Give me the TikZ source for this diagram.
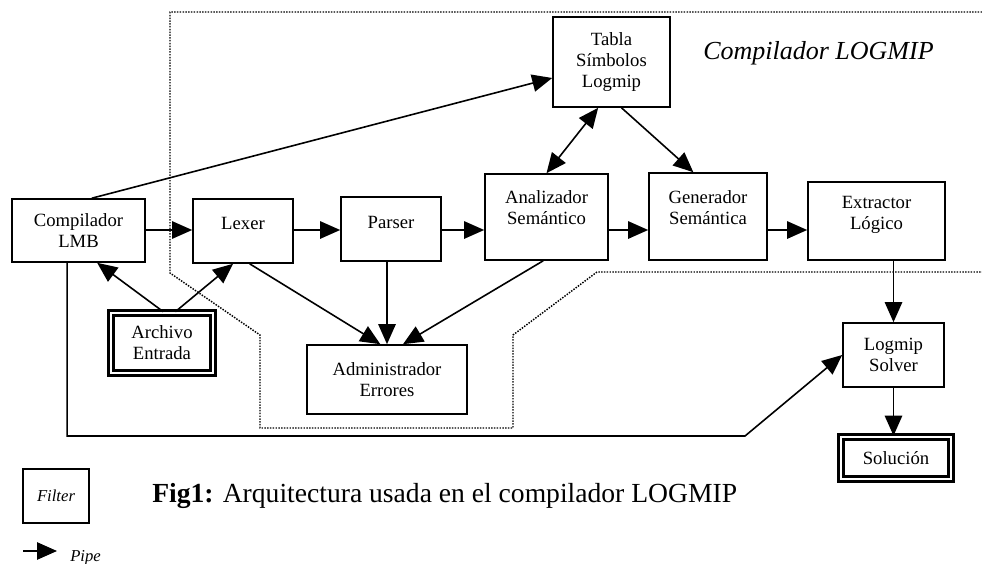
\documentclass[tikz,border=0pt]{standalone}
\usepackage{fontspec}
\setmainfont{Liberation Serif}
\usetikzlibrary{arrows.meta}
\newcommand\boxfont{\fontsize{14}{15.8}\selectfont}
\tikzset{
  filt/.style={draw, line width=1.2pt, align=center, font=\boxfont, inner sep=2pt},
  dfilt/.style={filt, double, double distance=2.2pt, line width=1.9pt},
  boxtxt/.style={font=\boxfont, align=center},
  pipe/.style={line width=1.2pt, ->},
  bound/.style={densely dotted, line width=1.1pt},
  >={Triangle[length=15pt,width=13pt]}
}
\begin{document}
\begin{tikzpicture}[x=0.75pt,y=-0.75pt]
    \useasboundingbox (0,0) rectangle (982,564);
    % limite del compilador
    \draw[bound] (982,12) -- (170,12) -- (170,273) -- (260,335) -- (260,428) -- (513,428) -- (513,335) -- (597,272) -- (982,272);
    \node[anchor=base west,inner sep=0pt,font=\itshape\fontsize{19.5}{22}\selectfont] (titulo) at (703,59) {Compilador LOGMIP};
    % filtros
    \node[filt, minimum width=99.75pt, minimum height=47.25pt] (lmb) at (78.5,230.5) {Compilador\\LMB};
    \node[filt, minimum width=75pt, minimum height=48pt, label={[boxtxt,yshift=6pt]center:Lexer}] (lexer) at (243,231) {};
    \node[filt, minimum width=75pt, minimum height=48pt, label={[boxtxt,yshift=5pt]center:Parser}] (parser) at (391,229) {};
    \node[filt, minimum width=92.25pt, minimum height=64.5pt, label={[boxtxt,yshift=7pt]center:Analizador\\Semántico}] (anal) at (546.5,217) {};
    \node[filt, minimum width=88.5pt, minimum height=65.25pt, label={[boxtxt,yshift=7pt]center:Generador\\Semántica}] (gen) at (708,216.5) {};
    \node[filt, minimum width=102.75pt, minimum height=58.5pt, label={[boxtxt,yshift=4.5pt]center:Extractor\\Lógico}] (extr) at (876.5,221) {};
    \node[filt, minimum width=87.75pt, minimum height=67.5pt] (tabla) at (611.5,62) {Tabla\\Símbolos\\Logmip};
    \node[filt, minimum width=120pt, minimum height=51.75pt] (admin) at (387,379.5) {Administrador\\Errores};
    \node[dfilt, minimum width=76.5pt, minimum height=45pt] (archivo) at (162,343) {Archivo\\Entrada};
    \node[filt, minimum width=75.75pt, minimum height=48pt] (logmip) at (893.5,355) {Logmip\\Solver};
    \node[dfilt, minimum width=82.5pt, minimum height=31.5pt] (sol) at (896,458) {Solución};
    % tuberias
    \coordinate (flow) at (0,230);
    \draw[pipe] (lmb.east |- flow) -- (lexer.west |- flow);
    \draw[pipe] (lexer.east |- flow) -- (parser.west |- flow);
    \draw[pipe] (parser.east |- flow) -- (anal.west |- flow);
    \draw[pipe] (anal.east |- flow) -- (gen.west |- flow);
    \draw[pipe] (gen.east |- flow) -- (extr.west |- flow);
    \draw[pipe] ([xshift=10pt]lmb.north) -- ([yshift=-12pt]tabla.west);
    \draw[pipe] ([xshift=1pt]archivo.north) -- ([xshift=14pt]lmb.south);
    \draw[pipe] ([xshift=10pt]archivo.north) -- ([xshift=-7.5pt]lexer.south);
    \draw[pipe] ([xshift=5pt]lexer.south) -- ([xshift=-5pt]admin.north);
    \draw[pipe] (parser.south -| admin.north) -- (admin.north);
    \draw[pipe] ([xshift=-2.5pt]anal.south) -- ([xshift=12pt]admin.north);
    \draw[line width=1.2pt, <->] ([xshift=-10pt]tabla.south) -- (anal.north);
    \draw[pipe] ([xshift=7.5pt]tabla.south) -- ([xshift=-11pt]gen.north);
    \draw[pipe] (extr.south -| logmip.north) -- (logmip.north);
    \draw[pipe] (logmip.south) -- (logmip.south |- sol.north);
    \coordinate (esq) at (745,436);
    \draw[pipe] ([xshift=-8.5pt]lmb.south) |- (esq) -- (logmip.west);
    % leyenda
    \node[draw, line width=1pt, minimum width=49.5pt, minimum height=40.5pt, font=\itshape\fontsize{12.5}{14}\selectfont] (legF) at (56,496) {Filter};
    \coordinate (pipeA) at (23,551);
    \coordinate (pipeB) at (57,551);
    \draw[pipe] (pipeA) -- (pipeB);
    \node[anchor=west, inner sep=0pt, font=\itshape\fontsize{12.5}{14}\selectfont] (legP) at (70,558) {Pipe};
    \node[anchor=base west, inner sep=0pt, font=\fontsize{20.7}{24}\selectfont] (caption) at (152,502) {\textbf{Fig1:} Arquitectura usada en el compilador LOGMIP};
\end{tikzpicture}
\end{document}
